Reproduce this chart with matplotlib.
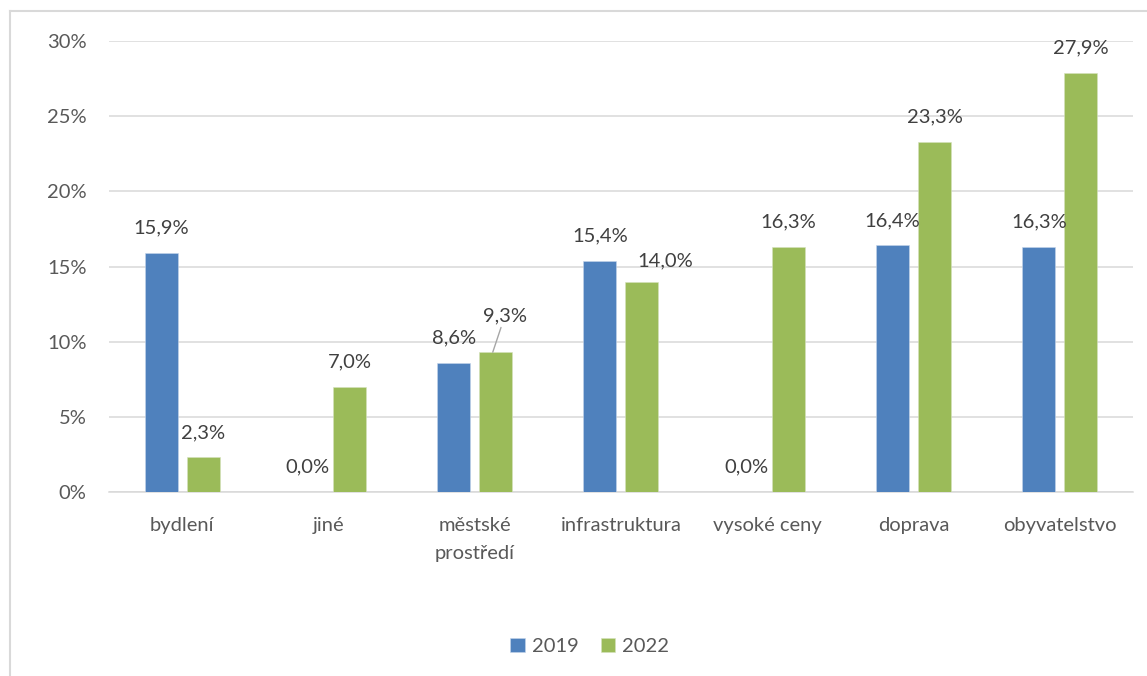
import numpy as np
import matplotlib
matplotlib.use('Agg')
import matplotlib.pyplot as plt
from matplotlib.lines import Line2D

categories = ['bydlení', 'jiné', 'městské\nprostředí', 'infrastruktura',
              'vysoké ceny', 'doprava', 'obyvatelstvo']
v2019 = [15.9, 0.0, 8.6, 15.4, 0.0, 16.4, 16.3]
v2022 = [2.3, 7.0, 9.3, 14.0, 16.3, 23.3, 27.9]
series = ['2019', '2022']

plt.rcParams['font.family'] = ['Lato', 'DejaVu Sans']

blue = '#4F81BD'
green = '#9BBB59'
grid_c = '#D9D9D9'
tick_c = '#595959'
lab_c = '#404040'
fs = 14.5

fig = plt.figure(figsize=(11.47, 6.76), dpi=100)
ax = fig.add_axes([0.0950, 0.2722, 0.8928, 0.6671])

x = np.arange(len(categories))
w = 0.2256
off = 0.1435
b1 = ax.bar(x - off, v2019, w, color=blue, edgecolor='#C5D5EA', linewidth=0.4, label=series[0], zorder=3)
b2 = ax.bar(x + off, v2022, w, color=green, edgecolor='#D5E3BD', linewidth=0.4, label=series[1], zorder=3)

ax.set_xlim(-0.5, len(categories) - 0.5)
ax.set_ylim(0, 30)
ax.set_yticks(np.arange(0, 31, 5))
ax.set_yticklabels([f'{t}%' for t in range(0, 31, 5)])
ax.set_xticks(x)
ax.set_xticklabels(categories, linespacing=1.8)
ax.tick_params(axis='both', length=0, labelsize=fs, colors=tick_c)
ax.tick_params(axis='y', pad=16)
ax.tick_params(axis='x', pad=18)
ax.yaxis.grid(True, color=grid_c, linewidth=1.1, zorder=0)
ax.set_axisbelow(True)
for s in ['top', 'right', 'left']:
    ax.spines[s].set_visible(False)
ax.spines['bottom'].set_color(grid_c)
ax.spines['bottom'].set_linewidth(1.1)


def fmt(v):
    return f'{v:.1f}%'.replace('.', ',')


# label offsets in pixels (default: centred 25 px above bar top)
special = {(1, 2): (12, 36), (1, 3): (23, 21)}
for si, (vals, shift) in enumerate([(v2019, -off), (v2022, off)]):
    for i, v in enumerate(vals):
        dx, dy = special.get((si, i), (0, 25))
        kw = {}
        if (si, i) == (1, 2):
            kw['arrowprops'] = dict(arrowstyle='-', color='#A6A6A6', lw=1.0,
                                    shrinkA=0, shrinkB=0)
            xy = (i + shift - 0.02, v)
        else:
            xy = (i + shift, v)
        ax.annotate(fmt(v), xy=xy, xytext=(dx, dy), textcoords='offset pixels',
                    ha='center', va='center', fontsize=fs, color=lab_c, **kw)

fig.legend(handles=[b1, b2], labels=series, loc='center', bbox_to_anchor=(0.514, 0.044),
           ncol=2, frameon=False, fontsize=fs, labelcolor=tick_c,
           handlelength=0.7, handleheight=0.7, handletextpad=0.35, columnspacing=1.1)

# chart area border (left and top edges visible)
fig.add_artist(Line2D([0.0087, 0.0087], [0.0, 0.9837], transform=fig.transFigure,
                      color=grid_c, linewidth=1.5))
fig.add_artist(Line2D([0.0087, 1.0], [0.9837, 0.9837], transform=fig.transFigure,
                      color=grid_c, linewidth=1.5))

fig.savefig('out.png', dpi=100)
